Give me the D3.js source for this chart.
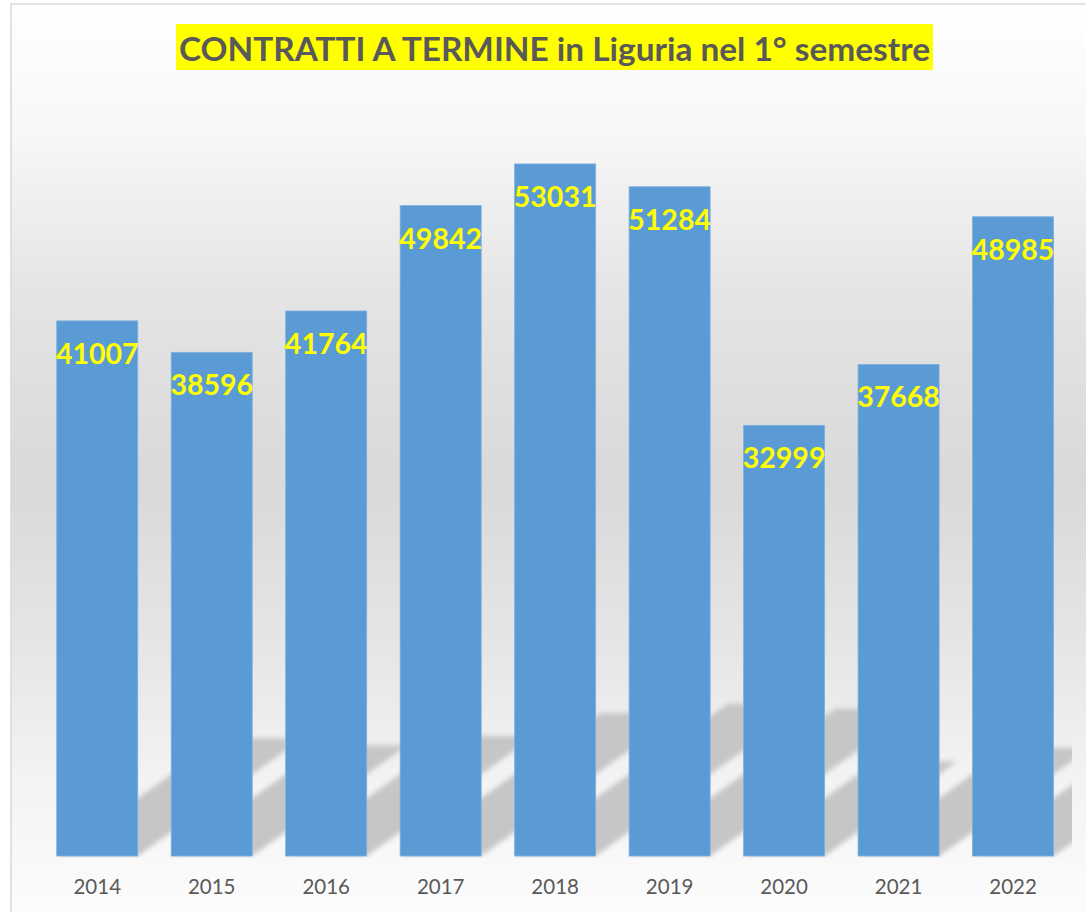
<!DOCTYPE html>
<html>
<head>
<meta charset="utf-8">
<script src="https://cdn.jsdelivr.net/npm/d3@7"></script>
<style>
  body { margin: 0; background: #fff; }
  svg { display: block; }
</style>
</head>
<body>
<div id="chart"></div>
<script>
const years = ['2014', '2015', '2016', '2017', '2018', '2019', '2020', '2021', '2022'];
const values = [41007, 38596, 41764, 49842, 53031, 51284, 32999, 37668, 48985];
const yDomain = [0, 60000];
const title = 'CONTRATTI A TERMINE in Liguria nel 1° semestre';

const width = 1086;
const height = 912;
const base = 856;

const svg = d3.select('#chart')
  .append('svg')
  .attr('width', width)
  .attr('height', height);

const defs = svg.append('defs');

// chart area background: white -> grey -> white
const bg = defs.append('linearGradient')
  .attr('id', 'bg-grad')
  .attr('x1', 0).attr('y1', 0).attr('x2', 0).attr('y2', 1);
[[0, '#ffffff'], [0.14, '#f7f7f7'], [0.32, '#e4e4e4'], [0.52, '#d9d9d9'],
 [0.7, '#e6e6e6'], [0.84, '#f3f3f3'], [1, '#fdfdfd']].forEach(([o, c]) => {
  bg.append('stop').attr('offset', o).attr('stop-color', c);
});

const blur = defs.append('filter').attr('id', 'shadow-blur')
  .attr('x', '-20%').attr('y', '-20%').attr('width', '140%').attr('height', '140%');
blur.append('feGaussianBlur').attr('stdDeviation', 2.5);

defs.append('clipPath').attr('id', 'plot-clip')
  .append('rect').attr('x', 12).attr('y', 60).attr('width', 1060).attr('height', base - 58);

svg.append('rect')
  .attr('x', 11).attr('y', 4)
  .attr('width', width + 10).attr('height', height + 10)
  .attr('fill', 'url(#bg-grad)')
  .attr('stroke', '#d9d9d9')
  .attr('stroke-width', 1.5);

const x = d3.scaleBand()
  .domain(years)
  .range([40, 1070.3])
  .paddingInner(0.292)
  .paddingOuter(0.146);

const y = d3.scaleLinear()
  .domain(yDomain)
  .range([base, 73]);

const data = years.map((yr, i) => ({ year: yr, value: values[i] }));

// perspective shadows behind the bars
const shadowRatio = 0.22;
const shear = 1.4;
svg.append('g')
  .attr('clip-path', 'url(#plot-clip)')
  .selectAll('polygon')
  .data(data)
  .join('polygon')
  .attr('points', d => {
    const x0 = x(d.year);
    const x1 = x0 + x.bandwidth();
    const t = (y(0) - y(d.value)) * shadowRatio;
    return [[x0, y(0)], [x1, y(0)], [x1 + t * shear, y(0) - t], [x0 + t * shear, y(0) - t]]
      .map(p => p.join(',')).join(' ');
  })
  .attr('fill', '#c6c6c6')
  .attr('filter', 'url(#shadow-blur)');

// bars
svg.append('g')
  .selectAll('rect')
  .data(data)
  .join('rect')
  .attr('x', d => x(d.year))
  .attr('y', d => y(d.value))
  .attr('width', x.bandwidth())
  .attr('height', d => y(0) - y(d.value))
  .attr('fill', '#5b9bd5')
  .attr('stroke', '#7fb1df')
  .attr('stroke-width', 0.8);

// value labels
svg.append('g')
  .selectAll('text')
  .data(data)
  .join('text')
  .attr('x', d => x(d.year) + x.bandwidth() / 2)
  .attr('y', d => y(d.value) + 43)
  .attr('text-anchor', 'middle')
  .attr('font-family', 'Lato, sans-serif')
  .attr('font-weight', 'bold')
  .attr('font-size', 28.5)
  .attr('fill', '#ffff00')
  .text(d => d.value);

// x axis labels
const xAxis = svg.append('g')
  .attr('transform', `translate(0,${base})`)
  .call(d3.axisBottom(x).tickSize(0).tickPadding(23));
xAxis.select('.domain').remove();
xAxis.selectAll('text')
  .attr('font-family', 'Lato, sans-serif')
  .attr('font-size', 20.5)
  .attr('fill', '#595959');

// title with yellow highlight
const titleG = svg.append('g');
titleG.append('rect')
  .attr('x', 176).attr('y', 24)
  .attr('width', 757).attr('height', 46)
  .attr('fill', '#ffff00');
titleG.append('text')
  .attr('x', 554.5)
  .attr('y', 61)
  .attr('text-anchor', 'middle')
  .attr('font-family', 'Lato, sans-serif')
  .attr('font-weight', 'bold')
  .attr('font-size', 33)
  .attr('fill', '#595959')
  .attr('textLength', 751)
  .attr('lengthAdjust', 'spacingAndGlyphs')
  .text(title);
</script>
</body>
</html>
